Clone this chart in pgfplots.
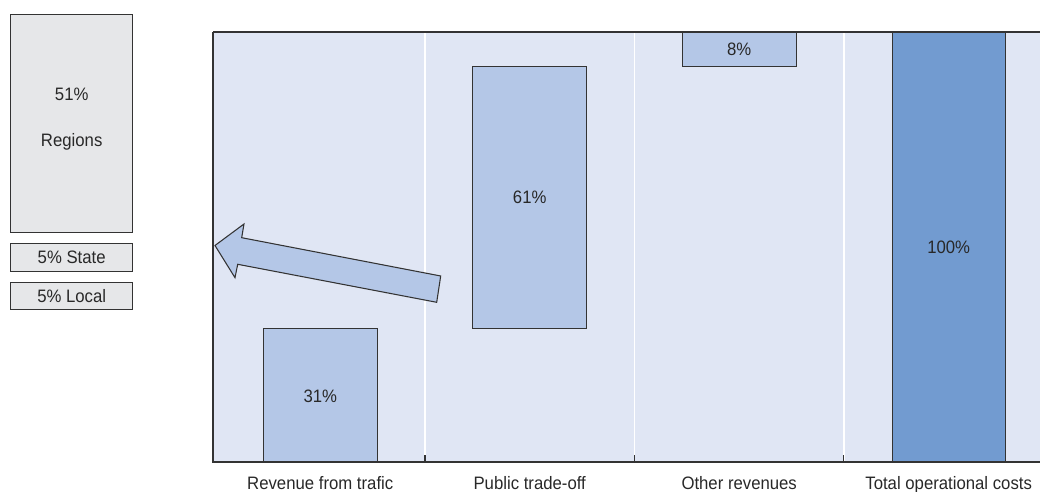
\documentclass[border=0pt]{standalone}
\usepackage{fontspec}
\setmainfont{Liberation Sans}[FakeStretch=0.93]
\usepackage{pgfplots}
\pgfplotsset{compat=1.18}
\definecolor{bg}{RGB}{224,230,244}
\definecolor{barlight}{RGB}{180,199,231}
\definecolor{bardark}{RGB}{114,155,208}
\definecolor{boxgray}{RGB}{230,231,233}
\definecolor{edge}{RGB}{51,51,51}
\definecolor{txt}{RGB}{40,40,40}
\newcommand{\lblfont}{\fontsize{13.5}{15}\selectfont}
\begin{document}
\begin{tikzpicture}[x=0.75pt,y=0.75pt]
\useasboundingbox (0,0) rectangle (1040,492);
\begin{axis}[at={(159.75pt,22.5pt)}, anchor=south west, scale only axis,
  width=620.25pt, height=322.5pt,
  xmin=-0.512, xmax=3.436, ymin=0, ymax=100,
  axis background/.style={fill=bg},
  axis line style={draw=none},
  ytick=\empty,
  xtick={0,1,2,3},
  xticklabels={Revenue from trafic, Public trade-off, Other revenues, Total operational costs},
  major tick length=0pt,
  xtick pos=left,
  tick align=inside,
  every tick/.style={edge, line width=0.8pt},
  extra x ticks={0.5,1.5,2.5},
  extra x tick labels={},
  extra x tick style={grid=major, major grid style={draw=white, line width=1.2pt}, major tick length=5pt},
  xticklabel style={font=\lblfont, text=txt, anchor=base, yshift=-21pt},
  clip=true,
]
\addplot[fill=barlight, draw=edge, line width=0.8pt] coordinates {(-0.272,0) (0.272,0) (0.272,31) (-0.272,31)} -- cycle;
\addplot[fill=barlight, draw=edge, line width=0.8pt] coordinates {(0.728,31) (1.272,31) (1.272,92) (0.728,92)} -- cycle;
\addplot[fill=barlight, draw=edge, line width=0.8pt] coordinates {(1.728,92) (2.272,92) (2.272,100) (1.728,100)} -- cycle;
\addplot[fill=bardark, draw=edge, line width=0.8pt] coordinates {(2.73,0) (3.27,0) (3.27,100) (2.73,100)} -- cycle;
\node[text=txt, font=\lblfont] at (axis cs:0,15.2) {31\%};
\node[text=txt, font=\lblfont] at (axis cs:1,61.5) {61\%};
\node[text=txt, font=\lblfont] at (axis cs:2,96) {8\%};
\node[text=txt, font=\lblfont] at (axis cs:3,50) {100\%};
\end{axis}
\begin{scope}[shift={(0,492)}, yscale=-1]
  \draw[edge, line width=1.4pt] (213,32) -- (213,462) -- (1040,462);
  \draw[edge, line width=1.4pt] (213,32) -- (1040,32);
  % arrow
  \filldraw[fill=barlight, draw=edge, line width=0.8pt, line join=miter]
    (215,245.5) -- (244,224) -- (241.7,237.7) -- (440.7,276) -- (436.7,302.3)
    -- (237.7,264.3) -- (235,277.7) -- cycle;
  % left boxes
  \filldraw[fill=boxgray, draw=edge, line width=0.8pt] (10.7,14.7) rectangle (132.7,232.7);
  \filldraw[fill=boxgray, draw=edge, line width=0.8pt] (10.7,243.3) rectangle (132.7,271.7);
  \filldraw[fill=boxgray, draw=edge, line width=0.8pt] (10.7,282.7) rectangle (132.7,309.3);
  \node[text=txt, font=\lblfont] at (71.7,94) {51\%};
  \node[text=txt, font=\lblfont] at (71.7,142) {Regions};
  \node[text=txt, font=\lblfont] at (71.7,257.5) {5\% State};
  \node[text=txt, font=\lblfont] at (71.7,296) {5\% Local};
\end{scope}
\end{tikzpicture}
\end{document}
